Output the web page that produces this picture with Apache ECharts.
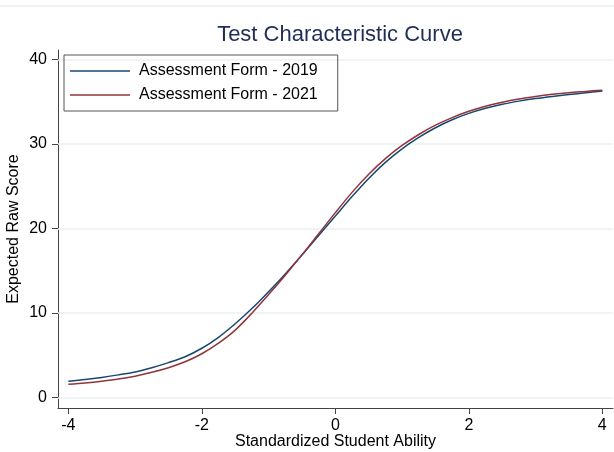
<!DOCTYPE html>
<html>
<head>
<meta charset="utf-8">
<title>Test Characteristic Curve</title>
<script src="https://cdn.jsdelivr.net/npm/echarts@6/dist/echarts.min.js"></script>
<style>
  html, body { margin: 0; padding: 0; background: #fff; }
  #tcc { width: 614px; height: 452px; }
</style>
</head>
<body>
<div id="tcc"></div>
<script>
// ability points (theta) and expected raw scores
var ability = [-4, -3.75, -3.5, -3.25, -3, -2.75, -2.5, -2.25, -2, -1.75, -1.5, -1.25, -1, -0.75, -0.5, -0.25,
  0, 0.25, 0.5, 0.75, 1, 1.25, 1.5, 1.75, 2, 2.25, 2.5, 2.75, 3, 3.25, 3.5, 3.75, 4];
var form2019 = [1.9, 2.1, 2.35, 2.65, 3.0, 3.5, 4.1, 4.8, 5.8, 7.1, 8.7, 10.5, 12.5, 14.6, 16.85, 19.15,
  21.45, 23.75, 25.9, 27.8, 29.4, 30.75, 31.9, 32.85, 33.6, 34.2, 34.68, 35.05, 35.35, 35.6, 35.82, 36.03, 36.25];
var form2021 = [1.55, 1.7, 1.9, 2.15, 2.5, 2.95, 3.5, 4.2, 5.15, 6.4, 7.95, 9.95, 12.15, 14.45, 16.85, 19.35,
  21.85, 24.25, 26.4, 28.25, 29.8, 31.1, 32.2, 33.1, 33.85, 34.45, 34.92, 35.3, 35.6, 35.85, 36.05, 36.2, 36.35];
var xTicks = [-4, -2, 0, 2, 4];
var yTicks = [0, 10, 20, 30, 40];

function pairs(ys) {
  return ability.map(function (x, i) { return [x, ys[i]]; });
}

var font = 'Liberation Sans, Arial, sans-serif';
var chart = echarts.init(document.getElementById('tcc'));

var option = {
  animation: false,
  backgroundColor: '#fff',
  title: {
    text: 'Test Characteristic Curve',
    left: 335,
    textAlign: 'center',
    top: 19,
    textStyle: { color: '#1f2d57', fontSize: 22, fontWeight: 'normal', fontFamily: font }
  },
  graphic: [{
    type: 'line',
    shape: { x1: 0, y1: 6, x2: 614, y2: 6 },
    style: { stroke: '#eef3f3', lineWidth: 2 },
    silent: true
  }],
  legend: {
    orient: 'vertical',
    left: 64,
    top: 55,
    itemWidth: 60,
    itemHeight: 14,
    itemGap: 8,
    padding: [8, 20, 8, 6],
    borderColor: '#555',
    borderWidth: 1,
    icon: 'path://M0,0 L60,0 L60,1.4 L0,1.4 Z',
    textStyle: { color: '#000', fontSize: 16, fontFamily: font, padding: [0, 0, 0, 4] },
    data: ['Assessment Form - 2019', 'Assessment Form - 2021']
  },
  grid: { left: 58, right: 1, top: 50, bottom: 44, containLabel: false, outerBoundsMode: 'none' },
  xAxis: {
    type: 'value',
    min: -4.155,
    max: 4.16,
    name: 'Standardized Student Ability',
    nameLocation: 'middle',
    nameGap: 26,
    nameMoveOverlap: false,
    nameTextStyle: { color: '#000', fontSize: 16, fontFamily: font },
    axisLine: { show: true, onZero: false, lineStyle: { color: '#444', width: 1 } },
    axisTick: { show: true, length: 6, customValues: xTicks, lineStyle: { color: '#444' } },
    axisLabel: { customValues: xTicks, color: '#000', fontSize: 16, fontFamily: font, margin: 10 },
    splitLine: { show: false }
  },
  yAxis: {
    type: 'value',
    min: -1.27,
    max: 41.1,
    name: 'Expected Raw Score',
    nameLocation: 'middle',
    nameGap: 36,
    nameMoveOverlap: false,
    nameTextStyle: { color: '#000', fontSize: 16, fontFamily: font },
    axisLine: { show: true, onZero: false, lineStyle: { color: '#444', width: 1 } },
    axisTick: { show: true, length: 6, customValues: yTicks, lineStyle: { color: '#444' } },
    axisLabel: { customValues: yTicks, color: '#000', fontSize: 16, fontFamily: font, margin: 11 },
    splitLine: { show: false }
  },
  series: [
    {
      name: 'Assessment Form - 2019',
      type: 'line',
      data: pairs(form2019),
      smooth: 0.3,
      showSymbol: false,
      color: '#1a476f',
      lineStyle: { width: 1.5, color: '#1a476f' },
      z: 3,
      markLine: {
        silent: true,
        symbol: 'none',
        label: { show: false },
        lineStyle: { color: '#eaf1f3', width: 1.5, type: 'solid' },
        data: yTicks.map(function (v) { return { yAxis: v }; }),
        z: 1
      }
    },
    {
      name: 'Assessment Form - 2021',
      type: 'line',
      data: pairs(form2021),
      smooth: 0.3,
      showSymbol: false,
      color: '#90353b',
      lineStyle: { width: 1.5, color: '#90353b' },
      z: 4
    }
  ]
};

chart.setOption(option, true);
window.addEventListener('resize', function () {
  chart.resize();
});
</script>
</body>
</html>
